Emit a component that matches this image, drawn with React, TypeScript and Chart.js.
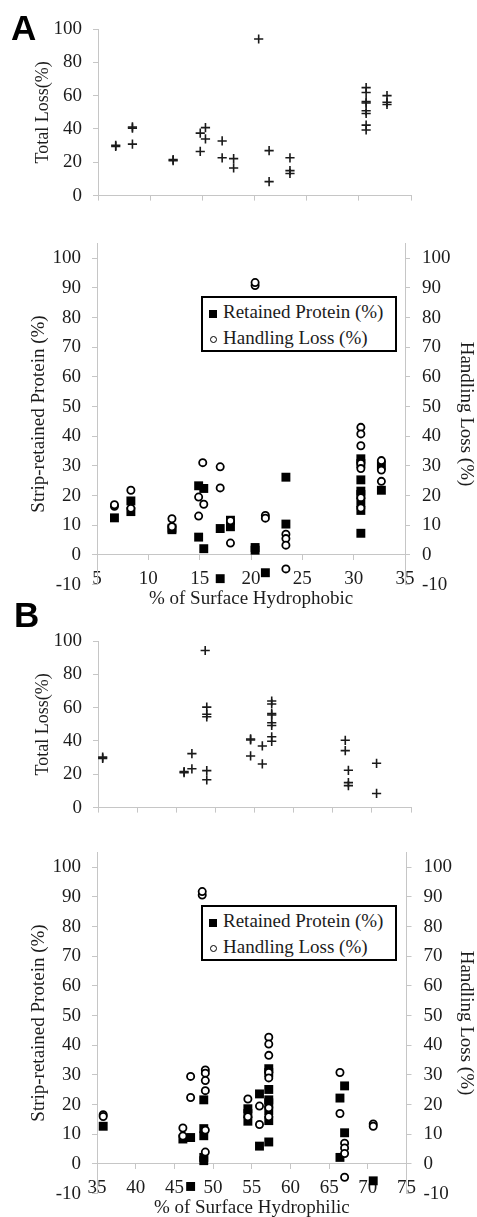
import React, { useEffect, useRef } from 'react';
import { Chart, registerables } from 'chart.js';

Chart.register(...registerables);

const SERIF = '"Liberation Serif", "Times New Roman", Times, serif';
const SANS = '"Liberation Sans", Arial, sans-serif';
const AXIS = '#c6c6c6';
const TEXT = '#1c1c1c';

// ---- Panel A (x = % of surface hydrophobic) ----
const hydrophobicTotalX = [6.7, 6.7, 8.3, 8.3, 8.3, 12.2, 12.2, 14.8, 14.8, 15.3, 15.3, 16.9, 16.9, 18.0, 18.0, 20.4, 21.4, 21.4, 23.4, 23.4, 23.4, 30.7, 30.7, 30.7, 30.7, 30.7, 30.7, 30.7, 30.7, 32.7, 32.7, 32.7];
const hydrophobicTotalY = [29.5, 30.2, 40.5, 41.2, 30.9, 21.0, 21.6, 37.5, 26.5, 40.8, 34.0, 32.8, 22.7, 22.2, 16.6, 94.0, 27.0, 8.4, 22.7, 15.0, 13.3, 64.8, 61.9, 56.4, 55.6, 50.9, 49.3, 42.3, 39.4, 60.0, 56.0, 54.7];

const hydrophobicRetainedX = [6.7, 8.3, 8.3, 12.3, 12.3, 14.9, 15.4, 14.9, 15.4, 17.0, 17.0, 18.0, 18.0, 20.4, 20.4, 21.4, 23.4, 23.4, 30.7, 30.7, 30.7, 30.7, 30.7, 30.7, 30.7, 30.7, 32.7, 32.7];
const hydrophobicRetainedY = [12.5, 18.2, 14.6, 8.5, 9.0, 23.3, 22.4, 6.0, 2.1, 8.9, -8.0, 11.7, 9.5, 2.5, 1.6, -6.0, 26.2, 10.4, 32.4, 30.8, 25.3, 21.5, 20.4, 17.7, 15.0, 7.3, 30.2, 21.8];

const hydrophobicHandlingX = [6.7, 6.7, 8.3, 8.3, 12.3, 12.3, 14.9, 14.9, 15.3, 15.4, 17.0, 17.0, 18.0, 18.0, 20.4, 20.4, 21.4, 21.4, 23.4, 23.4, 23.4, 23.4, 30.7, 30.7, 30.7, 30.7, 30.7, 30.7, 30.7, 32.7, 32.7, 32.7];
const hydrophobicHandlingY = [16.4, 16.9, 21.8, 15.7, 12.2, 9.5, 19.5, 13.1, 31.1, 17.1, 29.7, 22.6, 11.5, 4.0, 90.8, 91.8, 13.3, 12.4, 7.0, 5.5, 3.3, -4.7, 43.0, 40.8, 36.8, 30.8, 29.1, 19.3, 15.8, 31.8, 28.6, 24.8];

// ---- Panel B (x = % of surface hydrophilic) ----
const hydrophilicTotalX = [35.6, 35.6, 46.0, 46.0, 47.0, 47.0, 48.7, 48.9, 48.9, 48.9, 48.9, 48.9, 54.5, 54.5, 54.5, 56.0, 56.0, 57.2, 57.2, 57.2, 57.2, 57.2, 57.2, 57.2, 57.2, 66.6, 66.6, 67.0, 67.0, 67.0, 70.6, 70.6];
const hydrophilicTotalY = [29.5, 30.3, 21.0, 21.6, 32.4, 23.3, 94.3, 60.3, 56.0, 54.5, 22.2, 16.7, 40.6, 41.2, 31.0, 37.0, 26.2, 64.0, 62.2, 56.4, 55.6, 50.9, 49.3, 42.5, 39.8, 40.4, 34.2, 22.4, 15.0, 13.2, 26.6, 8.5];

const hydrophilicRetainedX = [35.8, 46.1, 47.1, 47.1, 48.8, 48.8, 48.8, 48.8, 48.8, 54.5, 54.5, 54.5, 56.0, 56.0, 57.2, 57.2, 57.2, 57.2, 57.2, 57.2, 57.2, 57.2, 66.4, 66.4, 67.0, 67.0, 70.7];
const hydrophilicRetainedY = [12.7, 8.4, 8.9, -7.6, 21.6, 11.9, 9.5, 2.2, 1.1, 18.6, 17.0, 14.4, 23.6, 6.0, 32.1, 30.8, 25.1, 21.6, 20.6, 17.9, 14.6, 7.4, 22.2, 2.2, 26.3, 10.5, -5.7];

const hydrophilicHandlingX = [35.8, 35.8, 46.1, 46.1, 47.1, 47.1, 48.6, 48.6, 49.0, 49.0, 49.0, 49.0, 49.0, 49.0, 54.5, 54.5, 56.0, 56.0, 57.2, 57.2, 57.2, 57.2, 57.2, 57.2, 57.2, 66.4, 66.4, 67.0, 67.0, 67.0, 67.0, 70.7, 70.7];
const hydrophilicHandlingY = [16.6, 16.0, 12.1, 9.4, 29.5, 22.4, 90.6, 91.8, 31.7, 30.6, 28.1, 24.7, 11.4, 4.0, 21.9, 15.9, 19.5, 13.3, 42.7, 40.4, 36.6, 30.8, 29.0, 18.9, 15.9, 30.8, 17.0, 7.0, 5.4, 3.5, -4.5, 13.5, 12.7];

const seriesLabels = ['Retained Protein (%)', 'Handling Loss (%)'];

const pts = (xs: number[], ys: number[]) => xs.map((x, i) => ({ x, y: ys[i] }));

const tickFont = { family: SERIF, size: 19 };

type TotalProps = {
  top: number; xs: number[]; ys: number[]; xMin: number; xMax: number; areaRight: number;
};

function TotalLossChart({ top, xs, ys, xMin, xMax, areaRight }: TotalProps) {
  const ref = useRef<HTMLCanvasElement>(null);
  const H = 218;
  useEffect(() => {
    const chart = new Chart(ref.current as HTMLCanvasElement, {
      type: 'scatter',
      data: {
        datasets: [{
          label: 'Total Loss(%)',
          data: pts(xs, ys),
          pointStyle: 'cross',
          pointRadius: 4.6,
          pointHoverRadius: 4.6,
          borderWidth: 1.6,
          borderColor: '#1a1a1a',
          backgroundColor: '#1a1a1a',
          clip: false,
        } as any],
      },
      options: {
        animation: false,
        responsive: false,
        devicePixelRatio: 1,
        events: [],
        layout: { padding: { left: 0, top: 29, right: 477 - areaRight, bottom: 0 } },
        plugins: { legend: { display: false }, tooltip: { enabled: false } },
        scales: {
          x: {
            type: 'linear', position: 'bottom', min: xMin, max: xMax,
            ticks: { stepSize: 5, display: false },
            grid: { drawOnChartArea: false, drawTicks: true, tickLength: 5, color: AXIS },
            border: { color: AXIS, width: 1 },
            afterFit: (s: any) => { s.height = 14; },
          },
          y: {
            type: 'linear', position: 'left', min: 0, max: 100,
            ticks: { stepSize: 20, padding: 11, color: TEXT, font: tickFont },
            grid: { drawOnChartArea: false, drawTicks: true, tickLength: 5, color: AXIS },
            border: { color: AXIS, width: 1 },
            title: { display: true, text: 'Total Loss(%)', color: TEXT, font: { family: SERIF, size: 18 }, padding: { top: 32, bottom: 0 } },
            afterFit: (s: any) => { s.width = 98; },
          },
        },
      } as any,
    });
    return () => chart.destroy();
  }, []);
  return (
    <canvas ref={ref} width={477} height={H}
      style={{ position: 'absolute', left: 0, top, width: 477, height: H }} />
  );
}

type SplitProps = {
  top: number; rx: number[]; ry: number[]; hx: number[]; hy: number[];
  xMin: number; xMax: number; areaRight: number; xTitle: string;
};

function Marker({ kind }: { kind: 'square' | 'circle' }) {
  if (kind === 'square') {
    return <span style={{ display: 'inline-block', width: 8, height: 8, background: '#000', marginRight: 6, verticalAlign: 'middle' }} />;
  }
  return <span style={{ display: 'inline-block', width: 5, height: 5, border: '1.5px solid #000', borderRadius: '50%', background: '#fff', marginLeft: 1, marginRight: 6, verticalAlign: 'middle' }} />;
}

function SplitChart({ top, rx, ry, hx, hy, xMin, xMax, areaRight, xTitle }: SplitProps) {
  const ref = useRef<HTMLCanvasElement>(null);
  const H = 395;
  useEffect(() => {
    const yCommon = {
      type: 'linear', min: -10, max: 105,
      grid: { drawOnChartArea: false, drawTicks: true, tickLength: 5, color: AXIS },
      border: { color: AXIS, width: 1 },
    };
    const chart = new Chart(ref.current as HTMLCanvasElement, {
      type: 'scatter',
      data: {
        datasets: [
          {
            label: seriesLabels[0],
            data: pts(rx, ry),
            yAxisID: 'y',
            pointStyle: 'rect',
            pointRadius: 6.3,
            pointHoverRadius: 6.3,
            borderWidth: 0,
            backgroundColor: '#000',
            borderColor: '#000',
            order: 1,
            clip: false,
          },
          {
            label: seriesLabels[1],
            data: pts(hx, hy),
            yAxisID: 'y1',
            pointStyle: 'circle',
            pointRadius: 3.6,
            pointHoverRadius: 3.6,
            borderWidth: 1.8,
            backgroundColor: '#fff',
            borderColor: '#000',
            order: 0,
            clip: false,
          },
        ] as any,
      },
      options: {
        animation: false,
        responsive: false,
        devicePixelRatio: 1,
        events: [],
        layout: { padding: { left: 0, top: 13, right: 0, bottom: H - 364.6 } },
        plugins: { legend: { display: false }, tooltip: { enabled: false } },
        scales: {
          x: {
            type: 'linear', position: { y: 0 }, min: xMin, max: xMax,
            ticks: { stepSize: 5, padding: 8, color: TEXT, font: tickFont },
            grid: { drawOnChartArea: false, drawTicks: true, tickLength: 5, color: AXIS },
            border: { color: AXIS, width: 1 },
            title: { display: true, text: xTitle, color: TEXT, font: { family: SERIF, size: 19 }, padding: { top: 0, bottom: 0.6 } },
            afterFit: (s: any) => { s.height = 56; },
          },
          y: {
            ...yCommon, position: 'left',
            ticks: { stepSize: 10, includeBounds: false, padding: 11, color: TEXT, font: tickFont },
            title: { display: true, text: 'Strip-retained Protein (%)', color: TEXT, font: { family: SERIF, size: 19 }, padding: { top: 28, bottom: 0 } },
            afterFit: (s: any) => { s.width = 97; },
          },
          y1: {
            ...yCommon, position: 'right',
            ticks: { stepSize: 10, includeBounds: false, padding: 12, color: TEXT, font: tickFont },
            title: { display: true, text: 'Handling Loss (%)', color: TEXT, font: { family: SERIF, size: 19 }, padding: { top: 0, bottom: 0 } },
            afterFit: (s: any) => { s.width = 477 - areaRight; },
          },
        },
      } as any,
    });
    return () => chart.destroy();
  }, []);
  return (
    <>
      <canvas ref={ref} width={477} height={H}
        style={{ position: 'absolute', left: 0, top, width: 477, height: H }} />
      <div style={{
        position: 'absolute', left: 201, top: top + 76, width: 186, height: 52,
        border: '2px solid #000', background: '#fff', fontFamily: SERIF, fontSize: 19, color: TEXT,
        paddingLeft: 6, boxSizing: 'content-box', whiteSpace: 'nowrap',
      }}>
        <div style={{ height: 27, lineHeight: '27px', marginTop: 0 }}><Marker kind="square" />{seriesLabels[0]}</div>
        <div style={{ height: 25, lineHeight: '25px' }}><Marker kind="circle" />{seriesLabels[1]}</div>
      </div>
    </>
  );
}

export default function App() {
  const panelLetter = (t: string, left: number, top: number) => (
    <div style={{ position: 'absolute', left, top, fontFamily: SANS, fontWeight: 'bold', fontSize: 35, lineHeight: '35px', color: '#000' }}>{t}</div>
  );
  return (
    <div style={{ position: 'absolute', left: 0, top: 0, width: 477, height: 1217, overflow: 'hidden', background: '#fff' }}>
      <TotalLossChart top={0} xs={hydrophobicTotalX} ys={hydrophobicTotalY} xMin={5} xMax={35} areaRight={411} />
      <SplitChart top={220} rx={hydrophobicRetainedX} ry={hydrophobicRetainedY} hx={hydrophobicHandlingX} hy={hydrophobicHandlingY}
        xMin={5} xMax={35} areaRight={405} xTitle="% of Surface Hydrophobic" />
      <TotalLossChart top={612} xs={hydrophilicTotalX} ys={hydrophilicTotalY} xMin={35} xMax={75} areaRight={411} />
      <SplitChart top={829} rx={hydrophilicRetainedX} ry={hydrophilicRetainedY} hx={hydrophilicHandlingX} hy={hydrophilicHandlingY}
        xMin={35} xMax={75} areaRight={406.5} xTitle="% of Surface Hydrophilic" />
      {panelLetter('A', 11, 10)}
      {panelLetter('B', 14, 597)}
    </div>
  );
}
